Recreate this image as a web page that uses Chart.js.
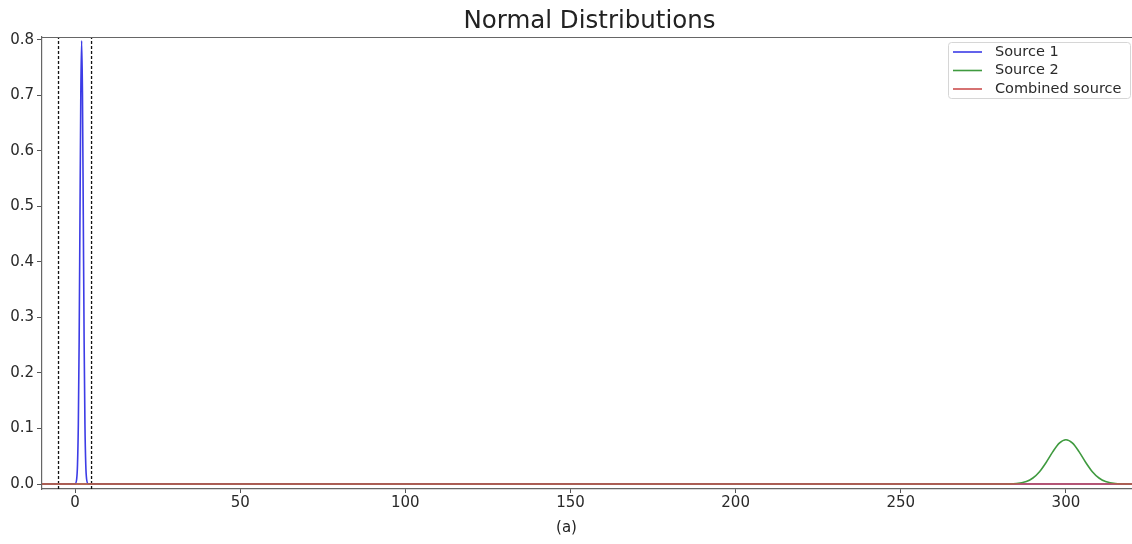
<!DOCTYPE html>
<html>
<head>
<meta charset="utf-8">
<script src="https://cdn.jsdelivr.net/npm/chart.js@4/dist/chart.umd.min.js"></script>
<style>
  html, body { margin: 0; padding: 0; background: #fff; }
  #wrap { width: 1132px; height: 544px; }
</style>
</head>
<body>
<div id="wrap"><canvas id="chart" width="1132" height="544"></canvas></div>
<script>
// values
var source1X = [-10, 0, 0.5, 0.75, 1, 1.25, 1.5, 1.75, 2, 2.25, 2.5, 2.75, 3, 3.25, 3.5, 4, 320];
var source1Y = [0, 0.0003, 0.009, 0.035, 0.108, 0.259, 0.484, 0.704, 0.798, 0.704, 0.484, 0.259, 0.108, 0.035, 0.009, 0.0003, 0];
var source2X = [-10, 280, 285, 288, 290, 292, 294, 296, 298, 300, 302, 304, 306, 308, 310, 312, 315, 320];
var source2Y = [0, 0, 0.0009, 0.0045, 0.0108, 0.0222, 0.0388, 0.0579, 0.0737, 0.0798, 0.0737, 0.0579, 0.0388, 0.0222, 0.0108, 0.0045, 0.0009, 0];
var combinedX = [-10, 320];
var combinedY = [0, 0];
var boundsX = [-5, 5];
var xTicks = [0, 50, 100, 150, 200, 250, 300];
var yTicks = [0, 0.1, 0.2, 0.3, 0.4, 0.5, 0.6, 0.7, 0.8];
var seriesNames = ['Source 1', 'Source 2', 'Combined source'];
var seriesColors = ['#3c3ce6', '#3f9a3f', '#cc4f4f'];

var yMin = -0.009, yMax = 0.805;

function pts(xs, ys) {
    return xs.map(function (x, i) { return { x: x, y: ys[i] }; });
}

var datasets = [
    { label: seriesNames[2], data: pts(combinedX, combinedY), borderColor: seriesColors[2], borderWidth: 1.6, order: 0 },
    { label: seriesNames[1], data: pts(source2X, source2Y), borderColor: seriesColors[1], borderWidth: 1.6, order: 1, cubicInterpolationMode: 'monotone' },
    { label: seriesNames[0], data: pts(source1X, source1Y), borderColor: seriesColors[0], borderWidth: 1.6, order: 2, cubicInterpolationMode: 'monotone' }
];
boundsX.forEach(function (b) {
    datasets.push({
        label: 'bound', data: [{ x: b, y: yMin }, { x: b, y: yMax }],
        borderColor: '#111', borderWidth: 1.3, borderDash: [3, 2], order: 3
    });
});

var decor = {
    id: 'decor',
    afterDraw: function (chart) {
        var ctx = chart.ctx, a = chart.chartArea;
        ctx.save();
        // top spine
        ctx.strokeStyle = '#666';
        ctx.lineWidth = 1.2;
        ctx.beginPath();
        ctx.moveTo(a.left, a.top + 0.5);
        ctx.lineTo(a.right, a.top + 0.5);
        ctx.stroke();
        // title and caption
        ctx.fillStyle = '#222';
        ctx.textAlign = 'center';
        ctx.textBaseline = 'middle';
        ctx.font = '24.5px "DejaVu Sans"';
        ctx.fillText('Normal Distributions', 589.5, 22);
        ctx.font = '15px "DejaVu Sans"';
        ctx.fillText('(a)', 566.5, 528);
        // legend
        var lx = 948, ly = 42, lw = 182, lh = 56;
        ctx.fillStyle = 'rgba(255,255,255,0.9)';
        ctx.strokeStyle = '#d6d6d6';
        ctx.lineWidth = 1;
        ctx.beginPath();
        ctx.roundRect(lx + 0.5, ly + 0.5, lw, lh, 3);
        ctx.fill();
        ctx.stroke();
        ctx.font = '14.5px "DejaVu Sans"';
        ctx.textAlign = 'left';
        for (var i = 0; i < 3; i++) {
            var yy = ly + 10 + i * 18.5;
            ctx.strokeStyle = seriesColors[i];
            ctx.lineWidth = 1.6;
            ctx.beginPath();
            ctx.moveTo(953, yy);
            ctx.lineTo(982, yy);
            ctx.stroke();
            ctx.fillStyle = '#2a2a2a';
            ctx.fillText(seriesNames[i], 995, yy);
        }
        ctx.restore();
    }
};

new Chart(document.getElementById('chart').getContext('2d'), {
    type: 'line',
    data: { datasets: datasets },
    options: {
        responsive: false,
        animation: false,
        events: [],
        layout: { padding: { top: 37, right: 0, bottom: 0, left: 0 } },
        elements: { point: { radius: 0 }, line: { tension: 0 } },
        plugins: { legend: { display: false }, tooltip: { enabled: false } },
        scales: {
            x: {
                type: 'linear', min: -10, max: 320,
                afterBuildTicks: function (s) { s.ticks = xTicks.map(function (v) { return { value: v }; }); },
                afterFit: function (s) { s.height = 55; },
                grid: { display: true, drawOnChartArea: false, drawTicks: true, tickLength: 4, color: '#555' },
                border: { display: true, color: '#666', width: 1.2 },
                ticks: { color: '#2a2a2a', font: { family: 'DejaVu Sans', size: 15 }, padding: 1, maxRotation: 0 }
            },
            y: {
                type: 'linear', min: yMin, max: yMax,
                afterBuildTicks: function (s) { s.ticks = yTicks.map(function (v) { return { value: v }; }); },
                afterFit: function (s) { s.width = 42; },
                grid: { display: true, drawOnChartArea: false, drawTicks: true, tickLength: 5, color: '#555' },
                border: { display: true, color: '#666', width: 1.2 },
                ticks: {
                    color: '#2a2a2a', font: { family: 'DejaVu Sans', size: 15 }, padding: 3,
                    callback: function (v) { return Number(v).toFixed(1); }
                }
            }
        }
    },
    plugins: [decor]
});
</script>
</body>
</html>
